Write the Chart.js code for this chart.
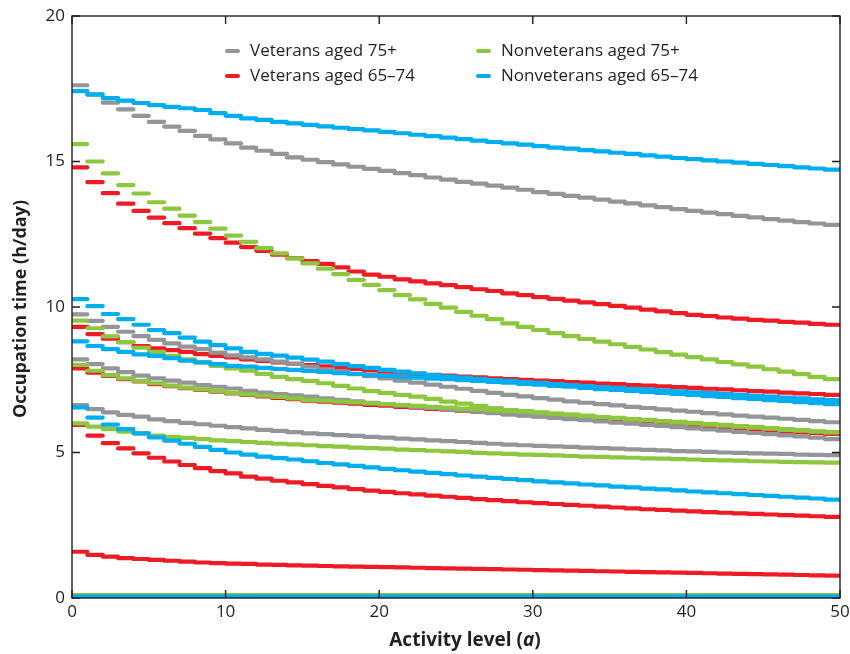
<!DOCTYPE html>
<html>
<head>
<meta charset="utf-8">
<script src="https://cdn.jsdelivr.net/npm/chart.js@4.4.1/dist/chart.umd.min.js"></script>
<style>
  html, body { margin: 0; padding: 0; background: #fff; }
  #wrap { width: 850px; height: 654px; }
</style>
</head>
<body>
<div id="wrap"><canvas id="occChart" width="850" height="654"></canvas></div>
<script>
// each value holds for one activity step, from a to a+1 (a = 0..49)
let xTicks = [0, 10, 20, 30, 40, 50];
let yTicks = [0, 5, 10, 15, 20];

let seriesLabels = ['Veterans aged 75+', 'Nonveterans aged 75+', 'Veterans aged 65\u201374', 'Nonveterans aged 65\u201374'];
let seriesColors = ['#939598', '#8dc63f', '#ed1c24', '#00aeef'];

// Veterans aged 75+ (gray)
let vet75A = [17.62, 17.3, 17.02, 16.79, 16.57, 16.36, 16.2, 16.05, 15.88, 15.76, 15.62, 15.48, 15.37, 15.26, 15.14, 15.06, 14.98, 14.9, 14.82, 14.75, 14.68, 14.6, 14.53, 14.45, 14.38, 14.3, 14.24, 14.17, 14.1, 14.03, 13.95, 13.89, 13.82, 13.76, 13.69, 13.62, 13.56, 13.49, 13.43, 13.36, 13.3, 13.24, 13.19, 13.13, 13.08, 13.02, 12.97, 12.92, 12.87, 12.82];
let vet75B = [9.75, 9.52, 9.32, 9.15, 9.0, 8.87, 8.75, 8.64, 8.55, 8.43, 8.34, 8.27, 8.2, 8.12, 8.05, 7.95, 7.86, 7.78, 7.69, 7.62, 7.55, 7.47, 7.4, 7.33, 7.26, 7.19, 7.12, 7.05, 6.98, 6.93, 6.87, 6.82, 6.76, 6.71, 6.66, 6.62, 6.57, 6.53, 6.48, 6.44, 6.4, 6.35, 6.31, 6.27, 6.23, 6.2, 6.16, 6.12, 6.08, 6.04];
let vet75C = [8.2, 8.04, 7.89, 7.76, 7.64, 7.55, 7.47, 7.4, 7.32, 7.26, 7.2, 7.12, 7.06, 7.01, 6.96, 6.92, 6.86, 6.81, 6.76, 6.71, 6.66, 6.62, 6.57, 6.53, 6.48, 6.44, 6.4, 6.35, 6.31, 6.27, 6.23, 6.19, 6.15, 6.11, 6.07, 6.03, 5.99, 5.95, 5.91, 5.87, 5.83, 5.79, 5.75, 5.71, 5.67, 5.63, 5.59, 5.55, 5.51, 5.46];
let vet75D = [6.63, 6.49, 6.38, 6.29, 6.23, 6.14, 6.08, 6.02, 5.97, 5.92, 5.87, 5.83, 5.78, 5.74, 5.7, 5.66, 5.63, 5.6, 5.57, 5.54, 5.51, 5.48, 5.45, 5.42, 5.39, 5.36, 5.33, 5.3, 5.27, 5.25, 5.23, 5.21, 5.19, 5.17, 5.15, 5.13, 5.11, 5.09, 5.07, 5.05, 5.04, 5.02, 5.0, 4.99, 4.97, 4.96, 4.95, 4.93, 4.92, 4.91];

// Veterans aged 65-74 (red)
let vet6574A = [14.8, 14.29, 13.91, 13.55, 13.3, 13.07, 12.88, 12.71, 12.52, 12.37, 12.21, 12.06, 11.93, 11.8, 11.68, 11.58, 11.48, 11.36, 11.22, 11.11, 11.04, 10.95, 10.88, 10.81, 10.75, 10.68, 10.61, 10.55, 10.47, 10.41, 10.34, 10.28, 10.22, 10.16, 10.1, 10.04, 9.98, 9.91, 9.85, 9.79, 9.73, 9.69, 9.64, 9.6, 9.56, 9.53, 9.49, 9.46, 9.42, 9.39];
let vet6574B = [9.32, 9.07, 8.91, 8.79, 8.66, 8.58, 8.52, 8.46, 8.38, 8.32, 8.27, 8.2, 8.15, 8.1, 8.05, 8.0, 7.96, 7.92, 7.87, 7.82, 7.78, 7.74, 7.7, 7.67, 7.64, 7.61, 7.58, 7.55, 7.52, 7.5, 7.47, 7.45, 7.42, 7.4, 7.37, 7.35, 7.32, 7.3, 7.27, 7.25, 7.22, 7.19, 7.17, 7.14, 7.11, 7.09, 7.06, 7.03, 7.01, 6.98];
let vet6574C = [7.89, 7.74, 7.63, 7.52, 7.44, 7.35, 7.28, 7.21, 7.15, 7.09, 7.03, 6.98, 6.93, 6.88, 6.83, 6.78, 6.75, 6.71, 6.68, 6.64, 6.61, 6.57, 6.54, 6.5, 6.47, 6.43, 6.4, 6.36, 6.32, 6.28, 6.25, 6.22, 6.18, 6.15, 6.12, 6.08, 6.05, 6.02, 5.98, 5.95, 5.92, 5.88, 5.85, 5.82, 5.78, 5.75, 5.72, 5.69, 5.67, 5.64];
let vet6574D = [5.95, 5.58, 5.32, 5.14, 4.97, 4.82, 4.69, 4.57, 4.46, 4.36, 4.28, 4.17, 4.1, 4.03, 3.97, 3.91, 3.85, 3.8, 3.74, 3.69, 3.65, 3.6, 3.56, 3.52, 3.48, 3.44, 3.4, 3.36, 3.33, 3.29, 3.26, 3.23, 3.2, 3.17, 3.14, 3.11, 3.08, 3.05, 3.03, 3.0, 2.98, 2.95, 2.93, 2.91, 2.89, 2.87, 2.85, 2.83, 2.81, 2.79];
let vet6574E = [1.59, 1.48, 1.42, 1.37, 1.34, 1.31, 1.28, 1.25, 1.22, 1.2, 1.18, 1.17, 1.15, 1.14, 1.12, 1.11, 1.1, 1.09, 1.08, 1.07, 1.06, 1.05, 1.04, 1.03, 1.02, 1.01, 1.0, 0.99, 0.98, 0.97, 0.96, 0.95, 0.94, 0.93, 0.92, 0.91, 0.9, 0.89, 0.88, 0.87, 0.86, 0.85, 0.84, 0.83, 0.82, 0.81, 0.8, 0.79, 0.78, 0.77];

// Nonveterans aged 75+ (green)
let nonvet75A = [15.6, 15.0, 14.59, 14.19, 13.9, 13.6, 13.38, 13.14, 12.92, 12.69, 12.45, 12.24, 12.02, 11.84, 11.67, 11.5, 11.32, 11.13, 10.93, 10.76, 10.58, 10.41, 10.26, 10.11, 9.98, 9.83, 9.7, 9.58, 9.44, 9.32, 9.21, 9.1, 9.0, 8.9, 8.81, 8.72, 8.63, 8.54, 8.45, 8.36, 8.28, 8.2, 8.11, 8.03, 7.95, 7.86, 7.78, 7.69, 7.6, 7.52];
let nonvet75B = [9.53, 9.27, 8.99, 8.79, 8.6, 8.46, 8.32, 8.2, 8.1, 7.98, 7.89, 7.81, 7.7, 7.6, 7.52, 7.46, 7.38, 7.29, 7.2, 7.11, 7.05, 6.98, 6.92, 6.84, 6.75, 6.68, 6.6, 6.53, 6.46, 6.42, 6.38, 6.34, 6.3, 6.26, 6.22, 6.18, 6.14, 6.11, 6.07, 6.03, 6.0, 5.96, 5.92, 5.89, 5.85, 5.82, 5.78, 5.75, 5.72, 5.69];
let nonvet75C = [8.01, 7.81, 7.66, 7.55, 7.46, 7.38, 7.3, 7.23, 7.17, 7.11, 7.05, 7.0, 6.95, 6.91, 6.86, 6.81, 6.78, 6.75, 6.72, 6.69, 6.66, 6.63, 6.6, 6.57, 6.54, 6.51, 6.48, 6.45, 6.42, 6.4, 6.36, 6.33, 6.29, 6.26, 6.22, 6.19, 6.15, 6.12, 6.08, 6.05, 6.02, 5.98, 5.95, 5.91, 5.88, 5.84, 5.8, 5.77, 5.73, 5.7];
let nonvet75D = [6.0, 5.89, 5.8, 5.72, 5.66, 5.58, 5.54, 5.5, 5.46, 5.42, 5.39, 5.36, 5.33, 5.3, 5.28, 5.25, 5.22, 5.2, 5.17, 5.15, 5.13, 5.1, 5.08, 5.06, 5.04, 5.02, 4.99, 4.97, 4.95, 4.93, 4.92, 4.9, 4.88, 4.86, 4.85, 4.83, 4.82, 4.8, 4.79, 4.77, 4.76, 4.74, 4.73, 4.72, 4.7, 4.69, 4.68, 4.67, 4.66, 4.65];
let nonvet75E = [0.1, 0.1, 0.1, 0.1, 0.1, 0.1, 0.1, 0.1, 0.1, 0.1, 0.1, 0.1, 0.1, 0.1, 0.1, 0.1, 0.1, 0.1, 0.1, 0.1, 0.1, 0.1, 0.1, 0.1, 0.1, 0.1, 0.1, 0.1, 0.1, 0.1, 0.1, 0.1, 0.1, 0.1, 0.1, 0.1, 0.1, 0.1, 0.1, 0.1, 0.1, 0.1, 0.1, 0.1, 0.1, 0.1, 0.1, 0.1, 0.1, 0.1];

// Nonveterans aged 65-74 (blue)
let nonvet6574A = [17.42, 17.31, 17.18, 17.09, 17.01, 16.94, 16.88, 16.83, 16.77, 16.66, 16.57, 16.48, 16.43, 16.36, 16.31, 16.26, 16.21, 16.16, 16.11, 16.07, 16.02, 15.97, 15.92, 15.87, 15.82, 15.77, 15.72, 15.67, 15.62, 15.58, 15.53, 15.48, 15.44, 15.39, 15.35, 15.3, 15.26, 15.21, 15.17, 15.12, 15.08, 15.04, 15.0, 14.96, 14.92, 14.88, 14.84, 14.8, 14.76, 14.72];
let nonvet6574B = [10.27, 10.03, 9.76, 9.58, 9.39, 9.21, 9.1, 8.95, 8.81, 8.69, 8.58, 8.46, 8.39, 8.33, 8.26, 8.19, 8.12, 8.04, 7.97, 7.91, 7.84, 7.78, 7.72, 7.66, 7.61, 7.57, 7.53, 7.49, 7.46, 7.42, 7.39, 7.35, 7.32, 7.28, 7.25, 7.22, 7.19, 7.16, 7.13, 7.1, 7.07, 7.04, 7.01, 6.98, 6.95, 6.92, 6.89, 6.86, 6.83, 6.8];
let nonvet6574C = [8.82, 8.66, 8.55, 8.46, 8.37, 8.32, 8.24, 8.16, 8.1, 8.04, 7.98, 7.95, 7.91, 7.87, 7.84, 7.8, 7.77, 7.73, 7.7, 7.66, 7.63, 7.6, 7.57, 7.54, 7.52, 7.49, 7.46, 7.43, 7.4, 7.36, 7.33, 7.29, 7.26, 7.22, 7.18, 7.15, 7.12, 7.08, 7.05, 7.01, 6.98, 6.94, 6.91, 6.87, 6.84, 6.8, 6.77, 6.73, 6.7, 6.66];
let nonvet6574D = [6.55, 6.2, 5.96, 5.8, 5.66, 5.52, 5.41, 5.3, 5.19, 5.09, 5.0, 4.93, 4.86, 4.81, 4.76, 4.7, 4.64, 4.59, 4.54, 4.49, 4.44, 4.39, 4.34, 4.3, 4.26, 4.21, 4.17, 4.13, 4.09, 4.05, 4.01, 3.97, 3.94, 3.9, 3.87, 3.83, 3.8, 3.76, 3.73, 3.7, 3.66, 3.63, 3.6, 3.57, 3.54, 3.51, 3.48, 3.45, 3.42, 3.38];
let nonvet6574E = [0.06, 0.06, 0.06, 0.06, 0.06, 0.06, 0.06, 0.06, 0.06, 0.06, 0.06, 0.06, 0.06, 0.06, 0.06, 0.06, 0.06, 0.06, 0.06, 0.06, 0.06, 0.06, 0.06, 0.06, 0.06, 0.06, 0.06, 0.06, 0.06, 0.06, 0.06, 0.06, 0.06, 0.06, 0.06, 0.06, 0.06, 0.06, 0.06, 0.06, 0.06, 0.06, 0.06, 0.06, 0.06, 0.06, 0.06, 0.06, 0.06, 0.06];

let textColor = '#231f20';
let fontFamily = '"Open Sans", "Noto Sans", sans-serif';

// turn a step array into separate flat segments (no vertical risers)
function stepSegments(values) {
  let pts = [];
  values.forEach((v, a) => {
    pts.push({x: a, y: v});
    pts.push({x: a + 1, y: v});
    pts.push({x: a + 1, y: null});
  });
  return pts;
}

function makeDataset(values, color) {
  return {
    data: stepSegments(values),
    borderColor: color,
    borderWidth: 4.2,
    borderCapStyle: 'round',
    pointRadius: 0,
    spanGaps: false,
    tension: 0,
    clip: 0
  };
}

// first dataset ends up on top
let datasets = [];
[nonvet6574A, nonvet6574B, nonvet6574C, nonvet6574D, nonvet6574E].forEach(v => datasets.push(makeDataset(v, seriesColors[3])));
[nonvet75A, nonvet75B, nonvet75C, nonvet75D, nonvet75E].forEach(v => datasets.push(makeDataset(v, seriesColors[1])));
[vet75A, vet75B, vet75C, vet75D].forEach(v => datasets.push(makeDataset(v, seriesColors[0])));
[vet6574A, vet6574B, vet6574C, vet6574D, vet6574E].forEach(v => datasets.push(makeDataset(v, seriesColors[2])));

let framePlugin = {
  id: 'frame',
  afterDatasetsDraw(chart) {
    let ctx = chart.ctx;
    let area = chart.chartArea;
    let xs = chart.scales.x, ys = chart.scales.y;
    ctx.save();
    ctx.strokeStyle = textColor;
    ctx.lineWidth = 1.4;
    ctx.strokeRect(area.left, area.top, area.right - area.left, area.bottom - area.top);
    // inward ticks on all four sides
    let len = 8;
    ctx.beginPath();
    xTicks.forEach(t => {
      let px = xs.getPixelForValue(t);
      ctx.moveTo(px, area.bottom); ctx.lineTo(px, area.bottom - len);
      ctx.moveTo(px, area.top); ctx.lineTo(px, area.top + len);
    });
    yTicks.forEach(t => {
      let py = ys.getPixelForValue(t);
      ctx.moveTo(area.left, py); ctx.lineTo(area.left + len, py);
      ctx.moveTo(area.right, py); ctx.lineTo(area.right - len, py);
    });
    ctx.stroke();
    ctx.restore();
  },
  afterDraw(chart) {
    let ctx = chart.ctx;
    let area = chart.chartArea;
    ctx.save();
    ctx.fillStyle = textColor;
    ctx.textBaseline = 'middle';

    // legend, two columns
    let spots = [[225, 51], [476, 51], [225, 76], [476, 76]];
    ctx.font = '17px ' + fontFamily;
    seriesLabels.forEach((label, i) => {
      let [lx, ly] = spots[i];
      ctx.strokeStyle = seriesColors[i];
      ctx.lineWidth = 4;
      ctx.lineCap = 'round';
      ctx.beginPath();
      ctx.moveTo(lx + 2, ly); ctx.lineTo(lx + 13, ly);
      ctx.stroke();
      ctx.textAlign = 'left';
      ctx.fillText(label, lx + 25, ly);
    });

    // x title with italic a
    let cx = (area.left + area.right) / 2 + 9;
    let bold = 'bold 18px ' + fontFamily;
    let boldItalic = 'italic bold 18px ' + fontFamily;
    let parts = [['Activity level (', 'bold 19px ' + fontFamily], ['a', 'italic bold 19px ' + fontFamily], [')', 'bold 19px ' + fontFamily]];
    let total = 0;
    parts.forEach(p => { ctx.font = p[1]; total += ctx.measureText(p[0]).width; });
    let xx = cx - total / 2;
    ctx.textAlign = 'left';
    parts.forEach(p => {
      ctx.font = p[1];
      ctx.fillText(p[0], xx, 641);
      xx += ctx.measureText(p[0]).width;
    });

    // y title
    ctx.translate(21, (area.top + area.bottom) / 2 + 2);
    ctx.rotate(-Math.PI / 2);
    ctx.font = bold;
    ctx.textAlign = 'center';
    ctx.fillText('Occupation time (h/day)', 0, 0);
    ctx.restore();
  }
};

let ctx = document.getElementById('occChart').getContext('2d');
let occChart = new Chart(ctx, {
  type: 'line',
  data: { datasets: datasets },
  options: {
    responsive: false,
    animation: false,
    devicePixelRatio: 1,
    layout: { padding: { top: 16, right: 10, left: 0, bottom: 0 } },
    plugins: { legend: { display: false }, tooltip: { enabled: false } },
    scales: {
      x: {
        type: 'linear',
        min: 0,
        max: 50,
        afterBuildTicks: s => { s.ticks = xTicks.map(v => ({value: v})); },
        afterFit: s => { s.height = 56; s.paddingRight = 0; s.paddingLeft = 0; },
        grid: { display: false, drawTicks: false },
        border: { display: false },
        ticks: { color: textColor, font: { family: fontFamily, size: 17 }, padding: 4, maxRotation: 0 }
      },
      y: {
        type: 'linear',
        min: 0,
        max: 20,
        afterBuildTicks: s => { s.ticks = yTicks.map(v => ({value: v})); },
        afterFit: s => { s.width = 72; s.paddingTop = 0; s.paddingBottom = 0; },
        grid: { display: false, drawTicks: false },
        border: { display: false },
        ticks: { color: textColor, font: { family: fontFamily, size: 17 }, padding: 7 }
      }
    }
  },
  plugins: [framePlugin]
});
</script>
</body>
</html>
